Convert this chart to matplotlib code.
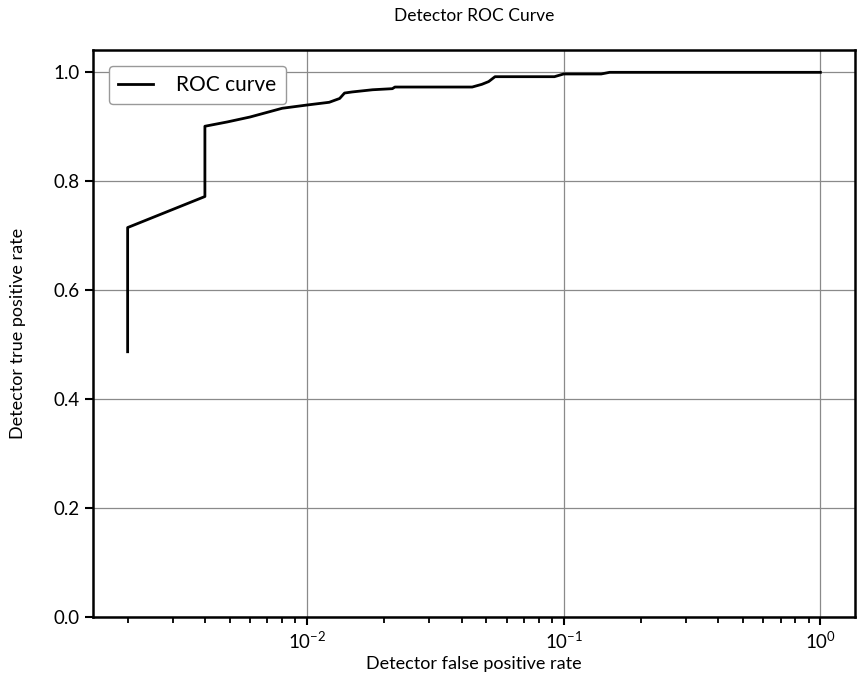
import matplotlib
matplotlib.use("Agg")
import matplotlib.pyplot as plt

# ROC points (false positive rate, true positive rate)
fpr = [0.002, 0.002, 0.004, 0.004, 0.0049, 0.006, 0.008, 0.010, 0.0122, 0.0134,
       0.014, 0.015, 0.018, 0.0215, 0.022, 0.044, 0.048, 0.051, 0.054, 0.092,
       0.100, 0.140, 0.151, 1.0]
tpr = [0.487, 0.715, 0.772, 0.901, 0.909, 0.918, 0.934, 0.940, 0.945, 0.952,
       0.962, 0.964, 0.968, 0.970, 0.973, 0.973, 0.978, 0.983, 0.992, 0.992,
       0.997, 0.997, 1.0, 1.0]
yticks = [0.0, 0.2, 0.4, 0.6, 0.8, 1.0]

plt.rcParams['font.family'] = ['Lato', 'DejaVu Sans']
plt.rcParams['mathtext.fontset'] = 'custom'
plt.rcParams['mathtext.rm'] = 'Lato'
plt.rcParams['mathtext.default'] = 'regular'

W, H = 857, 687
fig = plt.figure(figsize=(W / 100, H / 100), dpi=100)
ax = fig.add_axes([93 / W, (H - 617) / H, (855 - 93) / W, (617 - 50) / H])

ax.plot(fpr, tpr, color='black', linewidth=2.0, label='ROC curve')
ax.set_xscale('log')
ax.set_ylim(0, 1.041)
ax.set_yticks(yticks)
ax.set_yticklabels([f"{v:.1f}" for v in yticks])

ax.grid(True, which='major', color='#8a8a8a', linewidth=0.9)
for s in ax.spines.values():
    s.set_linewidth(1.8)
ax.tick_params(which='major', length=6, width=1.5, labelsize=13.5)
ax.tick_params(which='minor', length=4, width=1.3)

ax.set_xlabel('Detector false positive rate', fontsize=13, labelpad=3)
ax.set_ylabel('Detector true positive rate', fontsize=13, labelpad=20)
ax.set_title('Detector ROC Curve', fontsize=12.5, pad=21)

leg = ax.legend(loc='upper left', fontsize=15, handlelength=1.7, handletextpad=1.1,
                borderpad=0.45, borderaxespad=0.75, fancybox=True, framealpha=1)
leg.get_frame().set_edgecolor('#999999')

fig.savefig('out.png', dpi=100)
